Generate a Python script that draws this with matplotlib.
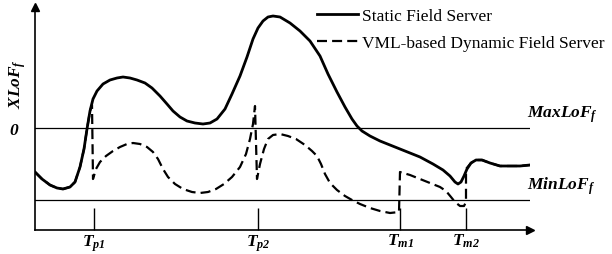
import numpy as np
import matplotlib
matplotlib.use("Agg")
import matplotlib.pyplot as plt

# :::::: Fonts: Times-like serif, bold italic maths ::::::
plt.rcParams['font.family'] = ['Liberation Serif', 'DejaVu Serif']
plt.rcParams['mathtext.fontset'] = 'custom'
plt.rcParams['mathtext.it'] = 'Liberation Serif:italic:bold'
plt.rcParams['mathtext.rm'] = 'Liberation Serif:italic:bold'
plt.rcParams['mathtext.bf'] = 'Liberation Serif:italic:bold'

static_t = [35, 42, 50, 57, 63, 70, 75, 80, 84, 87, 90, 93, 97, 103, 110, 117, 123, 130, 137, 145,
            152, 160, 167, 173, 180, 187, 195, 203, 210, 217, 225, 232, 240, 247, 253, 258, 263, 268,
            273, 280, 290, 300, 310, 320, 328, 337, 345, 352, 357, 362, 370, 380, 390, 400, 410, 420,
            433, 443, 450, 455, 458, 461, 464, 467, 471, 476, 482, 490, 500, 510, 520, 530]
static_v = [-44, -51, -57, -60, -61, -59, -54, -39, -21, -1, 17, 29, 37, 44, 48, 50, 51, 50, 48, 45,
            40, 32, 24, 17, 11, 7, 5, 4, 5, 9, 19, 34, 52, 71, 89, 100, 107, 111,
            112, 111, 105, 97, 87, 72, 54, 36, 21, 9, 2, -3, -8, -13, -17, -21, -25, -29,
            -36, -42, -48, -54, -56, -54, -48, -41, -35, -32, -32, -35, -38, -38, -38, -37]

dynamic_t = [35, 42, 50, 57, 63, 70, 75, 80, 84, 87, 90, 92, 93, 96, 100, 106, 113, 120, 127, 133,
             140, 147, 153, 158, 163, 168, 175, 183, 192, 200, 208, 216, 224, 232, 240, 246, 250, 253,
             255, 257, 260, 264, 268, 273, 280, 288, 296, 305, 312, 317, 321, 325, 330, 337, 345, 352,
             360, 370, 380, 390, 399, 400, 410, 420, 430, 440, 446, 451, 455, 460, 464, 466, 466, 471,
             476, 482, 490, 500, 510, 520, 530]
dynamic_v = [-44, -51, -57, -60, -61, -59, -54, -39, -21, -1, 17, 23, -51, -41, -34, -28, -23, -19, -16, -15,
             -16, -19, -24, -31, -41, -49, -56, -61, -64, -65, -64, -61, -56, -49, -39, -26, -11, 4,
             22, -51, -36, -21, -11, -7, -6, -8, -11, -17, -23, -28, -36, -46, -55, -62, -68, -72,
             -76, -80, -83, -85, -84, -44, -47, -51, -55, -59, -63, -69, -74, -78, -78, -74, -41, -35,
             -32, -32, -35, -38, -38, -38, -37]

max_lof = 0
min_lof = -72
event_t = [94, 258, 400, 466]
event_labels = [r'$T_{p1}$', r'$T_{p2}$', r'$T_{m1}$', r'$T_{m2}$']

# :::::: Figure ::::::
W, H = 612, 255
fs = 12.5
fig = plt.figure(figsize=(W / 100, H / 100), dpi=100)
ax = fig.add_axes([35 / W, 24 / H, 495 / W, 223 / H])
ax.set_xlim(35, 530)
ax.set_ylim(-102, 121)

ax.axhline(max_lof, color='black', lw=0.9)
ax.axhline(min_lof, color='black', lw=0.9)

ax.plot(dynamic_t, dynamic_v, color='black', lw=1.6, ls=(0, (4.5, 2.3)),
        label='VML-based Dynamic Field Server', zorder=3)
ax.plot(static_t, static_v, color='black', lw=2.0, label='Static Field Server', zorder=4)

# :::::: Axes: only left and bottom, with arrow heads ::::::
for side in ['top', 'right']:
    ax.spines[side].set_visible(False)
for side in ['left', 'bottom']:
    ax.spines[side].set_linewidth(1.2)
ax.plot([35], [121], marker='^', color='black', ms=6, clip_on=False)
ax.plot([530], [-102], marker='>', color='black', ms=6, clip_on=False)

ax.set_xticks(event_t)
ax.set_xticklabels(event_labels, fontsize=fs)
ax.tick_params(axis='x', direction='in', length=16, width=1.0, pad=1.5)
ax.set_yticks([0])
ax.set_yticklabels([r'$0$'], fontsize=fs)
ax.tick_params(axis='y', length=0, pad=11)

ax.set_ylabel(r'$XLoF_f$', fontsize=fs)
ax.yaxis.label.set_va('center')
ax.yaxis.set_label_coords(-17 / 495, (129 - 84 + 102) / 223)

ax.text(527, 4, r'$MaxLoF_f$', fontsize=fs, ha='left', va='bottom', clip_on=False)
ax.text(527, min_lof + 4, r'$MinLoF_f$', fontsize=fs, ha='left', va='bottom', clip_on=False)

handles, labels = ax.get_legend_handles_labels()
ax.legend(handles[::-1], labels[::-1], loc='upper left', bbox_to_anchor=(317 / W, 1 - 9 / H),
          bbox_transform=fig.transFigure, frameon=False, fontsize=fs, borderpad=0, borderaxespad=0,
          handlelength=2.36, handletextpad=0.23, labelspacing=0.6)

fig.savefig('out.png', dpi=100)
